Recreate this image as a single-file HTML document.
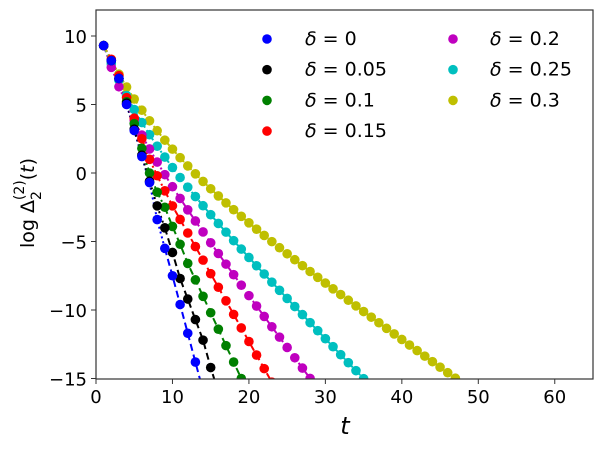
<!DOCTYPE html>
<html><head><meta charset="utf-8"><style>
html,body{margin:0;padding:0;background:#fff;}
svg{display:block;font-family:"DejaVu Sans","Liberation Sans",sans-serif;}
</style></head><body>
<svg id="s" width="603" height="451" xmlns="http://www.w3.org/2000/svg">
<defs><clipPath id="c"><rect x="96" y="10" width="497" height="369"/></clipPath></defs>
<g id="data" clip-path="url(#c)"></g>
<rect x="96" y="10" width="497" height="369" fill="none" stroke="#333" stroke-width="1.2"/>
<g id="ticks" font-size="18" fill="#000"></g>
<text x="345" y="434" font-size="24" font-style="italic" text-anchor="middle">t</text>
<text transform="translate(34,203) rotate(-90)" font-size="19" text-anchor="middle">log Δ<tspan font-size="14" dy="7">2</tspan><tspan font-size="14" dx="-9" dy="-17">(2)</tspan><tspan dy="10">(</tspan><tspan font-style="italic">t</tspan>)</text>
<g id="leg" font-size="19"></g>
</svg>
<script>
var NS="http://www.w3.org/2000/svg";
function X(t){return 96+t*7.646;}
function Y(v){return 173-v*13.7;}
function el(tag,a,p,txt){var e=document.createElementNS(NS,tag);for(var k in a)e.setAttribute(k,a[k]);if(txt!==undefined)e.textContent=txt;p.appendChild(e);return e;}
var tk=document.getElementById("ticks");
for(var t=0;t<=60;t+=10){el("line",{x1:X(t),x2:X(t),y1:379,y2:384,stroke:"#333"},tk);el("text",{x:X(t),y:403,"text-anchor":"middle"},tk,t);}
[10,5,0,-5,-10,-15].forEach(function(v){el("line",{x1:91,x2:96,y1:Y(v),y2:Y(v),stroke:"#333"},tk);el("text",{x:87,y:Y(v)+7,"text-anchor":"end"},tk,(v<0?"\u2212"+(-v):v));});
var blue=[9.3,8.2,6.9,5.0,3.1,1.2,-0.7,-3.4,-5.5,-7.5,-9.6,-11.7,-13.8,-15.9,-18];
var black=[9.3,8.2,6.9,5.1,3.2,1.3,-0.6,-2.4,-4.0,-5.8,-7.7,-9.2,-10.7,-12.2,-14.2,-16,-18];
var green=[9.3,8.2,6.9,5.2,3.6,1.8,0,-1.4,-2.5,-3.9,-5.2,-6.6,-7.8,-9.0,-10.2,-11.4,-12.6,-13.8,-15,-16.2];
var red=[9.3,8.3,7.1,5.5,4.0,2.5,1.0,-0.2,-1.3,-2.4];
for(var k=1;k<=15;k++)red.push(-2.4-0.99*k);
function arr(a){return function(t){return a[t-1];};}
var S=[
 {c:"#0000ff",l:"0",f:arr(blue),n:15},
 {c:"#000000",l:"0.05",f:arr(black),n:17},
 {c:"#008000",l:"0.1",f:arr(green),n:20},
 {c:"#ff0000",l:"0.15",f:arr(red),n:25},
 {c:"#bf00bf",l:"0.2",s:0.75,A:4.05,cc:4.3,n:32},
 {c:"#00bfbf",l:"0.25",s:0.58,A:4.6,cc:5.6,n:40},
 {c:"#bfbf00",l:"0.3",s:0.40,A:5.9,cc:8.1,n:55}];
var g=document.getElementById("data");
S.forEach(function(s){
 var f=s.f||function(t){return 9.3-s.s*(t-1)-s.A*(1-Math.exp(-(t-1)/s.cc));};
 var pts=[];for(var t=1;t<=s.n;t++)pts.push([X(t),Y(f(t))]);
 var brk=Math.min(9,s.n);
 el("polyline",{points:pts.slice(0,brk).join(" "),fill:"none",stroke:s.c,"stroke-width":2,"stroke-dasharray":"2,3"},g);
 el("polyline",{points:pts.slice(brk-1).join(" "),fill:"none",stroke:s.c,"stroke-width":2,"stroke-dasharray":"7,4"},g);
 s.pts=pts;
});
S.slice().reverse().forEach(function(s){s.pts.forEach(function(p){el("circle",{cx:p[0],cy:p[1],r:4.8,fill:s.c},g);});});
var lg=document.getElementById("leg");
S.forEach(function(s,i){
 var col=i<4?0:1,row=i<4?i:i-4;
 var mx=col?453:267,tx=col?490:305,y=39+row*30.7;
 el("circle",{cx:mx,cy:y,r:4.8,fill:s.c},lg);
 var t=el("text",{x:tx,y:y+6},lg);
 el("tspan",{"font-style":"italic"},t,"δ");
 el("tspan",{},t," = "+s.l);
});
</script>
</body></html>
